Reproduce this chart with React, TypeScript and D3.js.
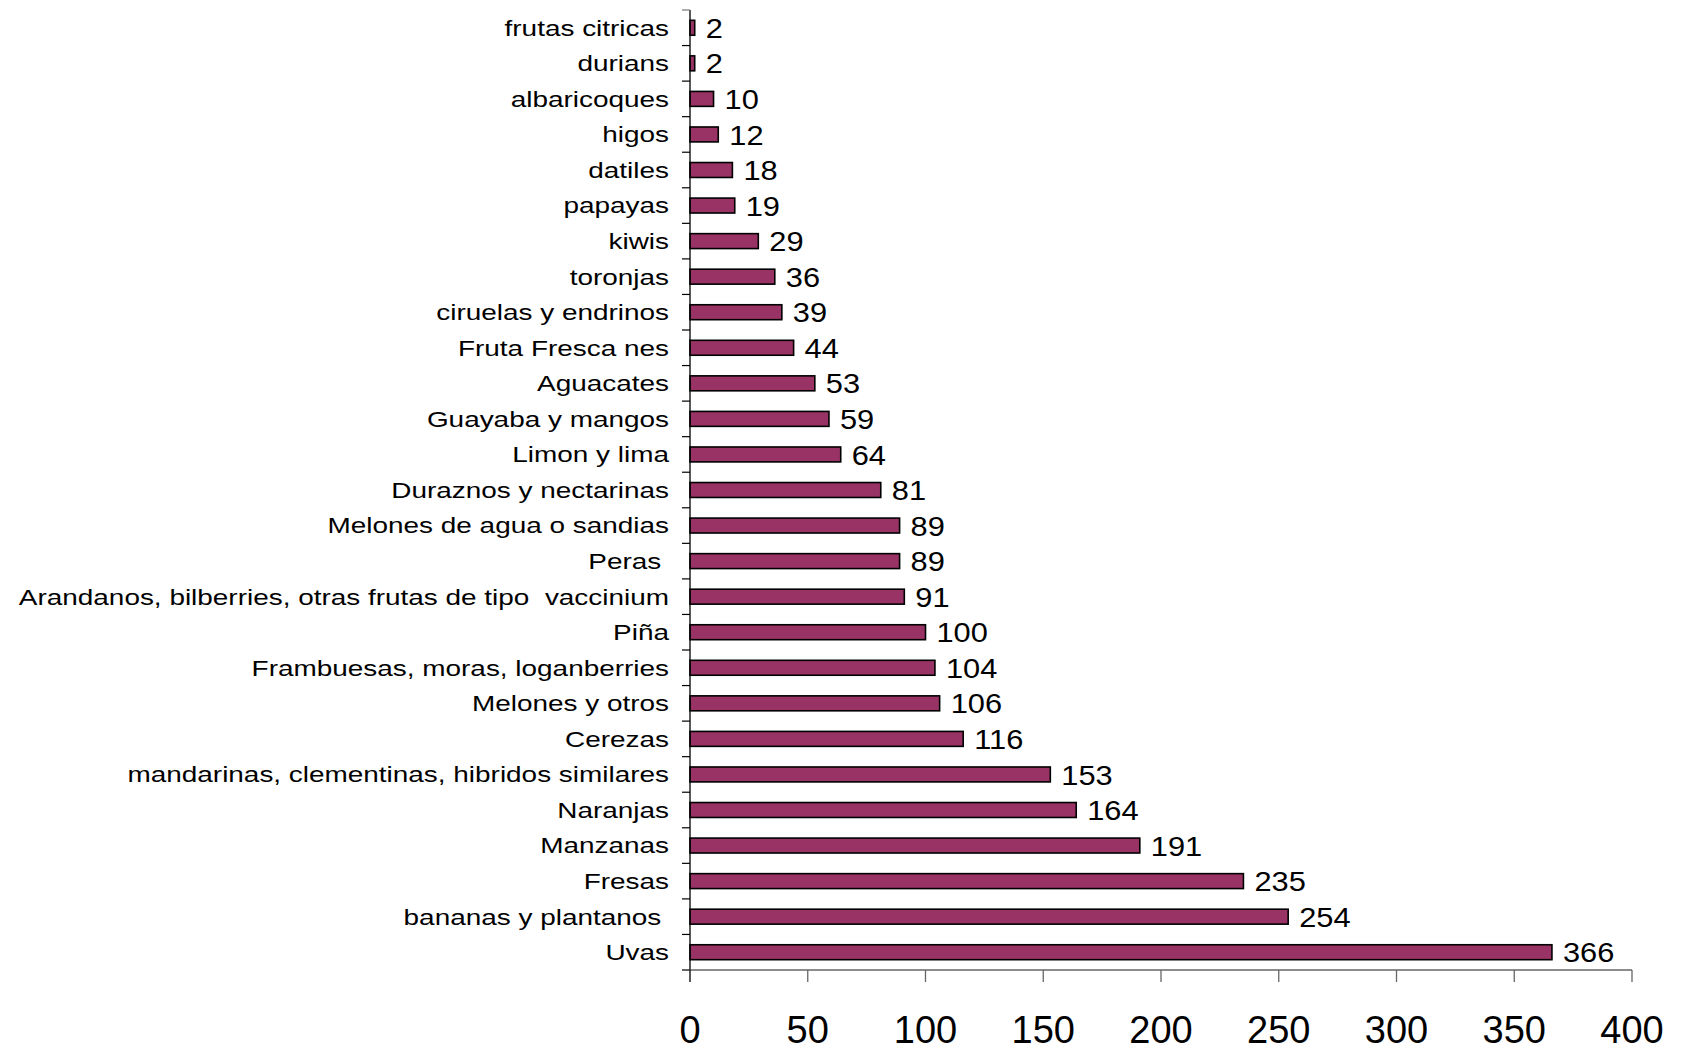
import React, { useEffect, useRef } from "react";
import * as d3 from "d3";

// Fruit categories, top to bottom, and their values
const categories = [
  "frutas citricas",
  "durians",
  "albaricoques",
  "higos",
  "datiles",
  "papayas",
  "kiwis",
  "toronjas",
  "ciruelas y endrinos",
  "Fruta Fresca nes",
  "Aguacates",
  "Guayaba y mangos",
  "Limon y lima",
  "Duraznos y nectarinas",
  "Melones de agua o sandias",
  "Peras ",
  "Arandanos, bilberries, otras frutas de tipo  vaccinium",
  "Piña",
  "Frambuesas, moras, loganberries",
  "Melones y otros",
  "Cerezas",
  "mandarinas, clementinas, hibridos similares",
  "Naranjas",
  "Manzanas",
  "Fresas",
  "bananas y plantanos ",
  "Uvas",
];

const values = [
  2, 2, 10, 12, 18, 19, 29, 36, 39, 44, 53, 59, 64, 81, 89, 89, 91, 100, 104,
  106, 116, 153, 164, 191, 235, 254, 366,
];

const xTicks = [0, 50, 100, 150, 200, 250, 300, 350, 400];

const W = 1681;
const H = 1050;
const M = { left: 690, right: 49, top: 10, bottom: 80 };
const FONT = "'Liberation Sans', Arial, sans-serif";
const CAT_STRETCH = 1.27;
const VAL_STRETCH = 1.1;

export default function App() {
  const ref = useRef<SVGSVGElement>(null);

  useEffect(() => {
    const svg = d3.select(ref.current);
    svg.selectAll("*").remove();

    const x = d3
      .scaleLinear()
      .domain([0, 400])
      .range([M.left, W - M.right]);
    const y = d3
      .scaleBand<string>()
      .domain(categories)
      .range([M.top, H - M.bottom])
      .paddingInner(0.58)
      .paddingOuter(0.29);

    const step = y.step();
    const g = svg.append("g");

    // bars
    g.selectAll("rect.bar")
      .data(categories)
      .join("rect")
      .attr("class", "bar")
      .attr("x", x(0))
      .attr("y", (d) => y(d)!)
      .attr("width", (_d, i) => x(values[i]) - x(0))
      .attr("height", y.bandwidth())
      .attr("fill", "#993366")
      .attr("stroke", "#000")
      .attr("stroke-width", 1.6);

    // value labels
    g.selectAll("text.val")
      .data(categories)
      .join("text")
      .attr("class", "val")
      .attr(
        "transform",
        (d, i) =>
          `translate(${x(values[i]) + 11},${y(d)! + y.bandwidth() / 2}) scale(${VAL_STRETCH},1)`
      )
      .attr("dy", "0.36em")
      .attr("font-family", FONT)
      .attr("font-size", 28)
      .attr("fill", "#000")
      .text((_d, i) => String(values[i]));

    // category axis
    const yLine = g.append("g");
    yLine
      .append("line")
      .attr("x1", x(0))
      .attr("x2", x(0))
      .attr("y1", M.top)
      .attr("y2", H - M.bottom)
      .attr("stroke", "#000")
      .attr("stroke-width", 1.3);
    const bounds = d3.range(categories.length + 1).map((i) => M.top + i * step);
    yLine
      .selectAll("line.tick")
      .data(bounds)
      .join("line")
      .attr("class", "tick")
      .attr("x1", x(0) - 8)
      .attr("x2", x(0))
      .attr("y1", (d) => d)
      .attr("y2", (d) => d)
      .attr("stroke", (_d, i) => (i === 0 ? "#777" : "#000"))
      .attr("stroke-width", 1.2);

    g.selectAll("text.cat")
      .data(categories)
      .join("text")
      .attr("class", "cat")
      .attr(
        "transform",
        (d) =>
          `translate(${x(0) - 21},${y(d)! + y.bandwidth() / 2}) scale(${CAT_STRETCH},1)`
      )
      .attr("dy", "0.36em")
      .attr("text-anchor", "end")
      .attr("font-family", FONT)
      .attr("font-size", 22)
      .attr("fill", "#000")
      .style("white-space", "pre")
      .text((d) => d);

    // value axis
    const xAxis = g.append("g");
    xAxis
      .append("line")
      .attr("x1", x(0))
      .attr("x2", x(400))
      .attr("y1", H - M.bottom)
      .attr("y2", H - M.bottom)
      .attr("stroke", "#666")
      .attr("stroke-width", 1.3);
    xAxis
      .selectAll("line.tick")
      .data(xTicks)
      .join("line")
      .attr("class", "tick")
      .attr("x1", (d) => x(d))
      .attr("x2", (d) => x(d))
      .attr("y1", H - M.bottom)
      .attr("y2", H - M.bottom + 12)
      .attr("stroke", (d) => (d === 0 ? "#000" : "#666"))
      .attr("stroke-width", 1.3);
    xAxis
      .selectAll("text")
      .data(xTicks)
      .join("text")
      .attr("x", (d) => x(d))
      .attr("y", H - M.bottom + 73)
      .attr("text-anchor", "middle")
      .attr("font-family", FONT)
      .attr("font-size", 38)
      .attr("fill", "#000")
      .text((d) => String(d));
  }, []);

  return (
    <svg
      ref={ref}
      width={W}
      height={H}
      style={{ position: "absolute", left: 0, top: 0, background: "#fff" }}
    />
  );
}
